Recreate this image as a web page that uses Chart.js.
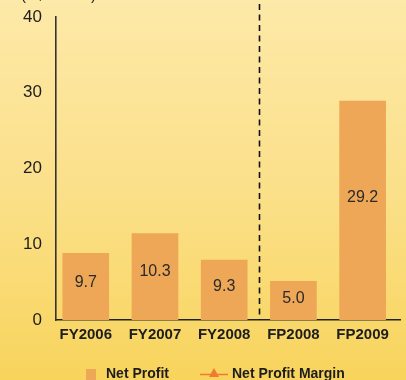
<!DOCTYPE html>
<html>
<head>
<meta charset="utf-8">
<script src="https://cdn.jsdelivr.net/npm/chart.js@4.4.1/dist/chart.umd.min.js"></script>
<style>
  html, body { margin: 0; padding: 0; }
  #wrap { width: 406px; height: 380px; position: relative; }
</style>
</head>
<body>
<div id="wrap"><canvas id="chart" width="406" height="380"></canvas></div>
<script>
// ================== Data ==================
const categories = ['FY2006', 'FY2007', 'FY2008', 'FP2008', 'FP2009'];
const netProfit = [8.8, 11.4, 7.9, 5.1, 28.9];          // bar heights as drawn
const netProfitLabels = ['9.7', '10.3', '9.3', '5.0', '29.2']; // printed values
const yTicks = [0, 10, 20, 30, 40];
const unitLabel = '(S$ million)';
const legendNames = ['Net Profit', 'Net Profit Margin'];
const splitAt = 2.5; // dashed divider between FY and FP periods

const FONT = '"Liberation Sans", Arial, Helvetica, sans-serif';
const BAR = '#eda756';
const MARGIN = '#f07a32';
const INK = '#1d1d1d';

// ================== Plugins ==================
const bgPlugin = {
  id: 'bg',
  beforeDraw(chart){
    const { ctx, width, height } = chart;
    const g = ctx.createLinearGradient(0, 0, 0, height);
    g.addColorStop(0, '#fde9a8');
    g.addColorStop(0.5, '#fbe08a');
    g.addColorStop(1, '#f8d45c');
    ctx.save();
    ctx.fillStyle = g;
    ctx.fillRect(0, 0, width, height);
    ctx.restore();
  }
};

const extrasPlugin = {
  id: 'extras',
  afterDatasetsDraw(chart){
    const { ctx, scales: { x, y } } = chart;
    ctx.save();
    // labels inside bars
    ctx.font = '16px ' + FONT;
    ctx.fillStyle = '#2a2a2a';
    ctx.textAlign = 'center';
    ctx.textBaseline = 'middle';
    chart.getDatasetMeta(0).data.forEach((bar, i) => {
      ctx.fillText(netProfitLabels[i], bar.x, y.getPixelForValue(netProfit[i] * 0.56));
    });
    // dashed divider
    const dx = Math.round(x.getPixelForValue(splitAt)) + 0.5;
    ctx.strokeStyle = '#111';
    ctx.lineWidth = 1.6;
    ctx.setLineDash([6, 4.5]);
    ctx.beginPath();
    ctx.moveTo(dx, 4);
    ctx.lineTo(dx, y.getPixelForValue(0));
    ctx.stroke();
    ctx.setLineDash([]);
    // unit label, mostly cut off at the top
    ctx.font = '15px ' + FONT;
    ctx.fillStyle = INK;
    ctx.textAlign = 'left';
    ctx.textBaseline = 'alphabetic';
    ctx.fillText(unitLabel, 21, 0);
    // legend
    ctx.font = 'bold 14px ' + FONT;
    ctx.textBaseline = 'middle';
    const ly = 374;
    ctx.fillStyle = BAR;
    ctx.fillRect(86, ly - 5, 10, 11);
    ctx.fillStyle = INK;
    ctx.fillText(legendNames[0], 106, ly);
    ctx.strokeStyle = MARGIN;
    ctx.lineWidth = 1.5;
    ctx.beginPath();
    ctx.moveTo(200, ly + 0.5);
    ctx.lineTo(228, ly + 0.5);
    ctx.stroke();
    ctx.fillStyle = MARGIN;
    ctx.beginPath();
    ctx.moveTo(214, ly - 6);
    ctx.lineTo(219, ly + 3);
    ctx.lineTo(209, ly + 3);
    ctx.closePath();
    ctx.fill();
    ctx.fillStyle = INK;
    ctx.fillText(legendNames[1], 232, ly);
    ctx.restore();
  }
};

// ================== Chart ==================
new Chart(document.getElementById('chart'), {
  type: 'bar',
  data: {
    datasets: [{
      label: legendNames[0],
      data: netProfit.map((v, i) => ({ x: i, y: v })),
      backgroundColor: BAR,
      barThickness: 46,
      borderWidth: 0
    }]
  },
  options: {
    responsive: false,
    animation: false,
    layout: { padding: { top: 17, right: 6, left: 0, bottom: 0 } },
    plugins: { legend: { display: false }, tooltip: { enabled: false } },
    scales: {
      x: {
        type: 'linear',
        offset: false,
        min: -0.43,
        max: 4.54,
        afterBuildTicks: s => { s.ticks = categories.map((c, i) => ({ value: i })); },
        afterFit: s => { s.height = 60; s.paddingLeft = 0; s.paddingRight = 0; },
        grid: { display: false, drawTicks: false, offset: false },
        border: { color: '#222', width: 1.6 },
        ticks: {
          autoSkip: false,
          maxRotation: 0,
          padding: 6,
          color: INK,
          font: { family: FONT, size: 15, weight: 'bold' },
          callback: v => categories[v]
        }
      },
      y: {
        min: 0,
        max: 40,
        afterBuildTicks: s => { s.ticks = yTicks.map(v => ({ value: v })); },
        afterFit: s => { s.width = 56; s.paddingTop = 0; s.paddingBottom = 0; },
        grid: { display: false, drawTicks: false },
        border: { color: '#333', width: 1.6 },
        ticks: {
          padding: 14,
          color: INK,
          font: { family: FONT, size: 17 }
        }
      }
    }
  },
  plugins: [bgPlugin, extrasPlugin]
});
</script>
</body>
</html>
